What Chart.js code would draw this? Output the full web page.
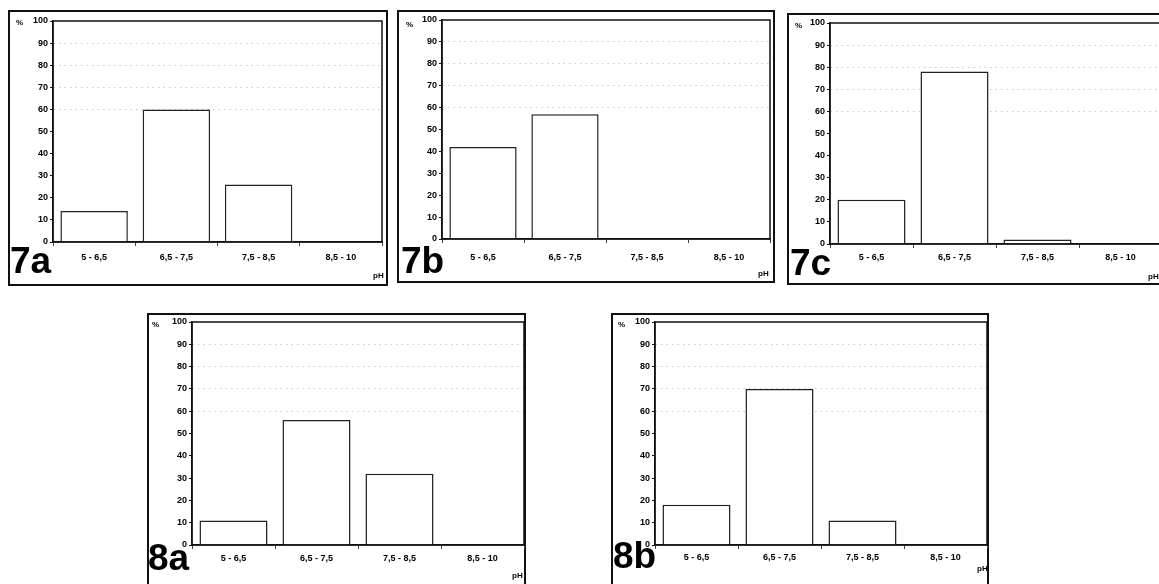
<!DOCTYPE html>
<html>
<head>
<meta charset="utf-8">
<script src="https://cdn.jsdelivr.net/npm/chart.js@4.4.1/dist/chart.umd.min.js"></script>
<style>
  body { margin: 0; width: 1159px; height: 584px; background: #fff; position: relative; overflow: hidden;
         font-family: 'Liberation Sans', Arial, sans-serif; }
  .box { position: absolute; border: 2px solid #111; box-sizing: border-box; }
  canvas { position: absolute; }
  .tag { position: absolute; font-weight: bold; font-size: 37px; line-height: 37px; color: #000; }
  .small { position: absolute; font-weight: bold; font-size: 8px; line-height: 8px; color: #000; }
</style>
</head>
<body>
<script>
'use strict';

// pH classes on the x axis
let categories = ['5 - 6,5', '6,5 - 7,5', '7,5 - 8,5', '8,5 - 10'];
let yTicks = [0, 10, 20, 30, 40, 50, 60, 70, 80, 90, 100];

// % of samples per pH class, one list per panel
let values7a = [14, 60, 26, 0];
let values7b = [42, 57, 0, 0];
let values7c = [20, 78, 2, 0];
let values8a = [11, 56, 32, 0];
let values8b = [18, 70, 11, 0];

// where each panel sits on the page
let panels = [
  { name: '7a', data: values7a, box: [8, 10, 388, 286], plot: [53, 21, 382, 242], tag: [10, 273], pct: [19, 23], ph: [373, 276], pad: 6.6 },
  { name: '7b', data: values7b, box: [397, 10, 775, 283], plot: [442, 20, 770, 239], tag: [401, 273], pct: [409, 25], ph: [758, 274], pad: 9.6 },
  { name: '7c', data: values7c, box: [787, 13, 1168, 285], plot: [830, 23, 1162, 244], tag: [790, 275], pct: [798, 26], ph: [1148, 277], pad: 4.6 },
  { name: '8a', data: values8a, box: [147, 313, 526, 592], plot: [192, 322, 524, 545], tag: [148, 570], pct: [155, 325], ph: [512, 576], pad: 4.6 },
  { name: '8b', data: values8b, box: [611, 313, 989, 592], plot: [655, 322, 987, 545], tag: [613, 568], pct: [621, 325], ph: [977, 569], pad: 3.6 }
];

let framePlugin = {
  id: 'frame',
  afterDraw(chart) {
    let a = chart.chartArea;
    let ctx = chart.ctx;
    ctx.save();
    ctx.strokeStyle = '#111';
    ctx.lineWidth = 1.5;
    ctx.strokeRect(a.left, a.top, a.right - a.left, a.bottom - a.top);
    ctx.restore();
  }
};

function addText(cls, text, x, y) {
  let el = document.createElement('span');
  el.className = cls;
  el.textContent = text;
  el.style.left = x + 'px';
  el.style.top = y + 'px';
  document.body.appendChild(el);
  return el;
}

function makePanel(p) {
  let box = document.createElement('div');
  box.className = 'box';
  box.style.left = p.box[0] + 'px';
  box.style.top = p.box[1] + 'px';
  box.style.width = (p.box[2] - p.box[0]) + 'px';
  box.style.height = (p.box[3] - p.box[1]) + 'px';
  document.body.appendChild(box);

  let plotW = p.plot[2] - p.plot[0];
  let plotH = p.plot[3] - p.plot[1];
  let canvas = document.createElement('canvas');
  canvas.width = plotW + 45 + 4;
  canvas.height = plotH + 10 + 30;
  canvas.style.left = (p.plot[0] - 45) + 'px';
  canvas.style.top = (p.plot[1] - 10) + 'px';
  document.body.appendChild(canvas);

  let tickFont = { family: 'Liberation Sans', size: 9, weight: 'bold' };

  new Chart(canvas.getContext('2d'), {
    type: 'bar',
    data: {
      labels: categories,
      datasets: [{
        data: p.data,
        backgroundColor: '#fff',
        borderColor: '#222',
        borderWidth: 1.5,
        barPercentage: 0.82,
        categoryPercentage: 1
      }]
    },
    options: {
      responsive: false,
      animation: false,
      layout: { padding: { left: 15, top: 10, right: 4, bottom: 0 } },
      plugins: { legend: { display: false }, tooltip: { enabled: false } },
      scales: {
        x: {
          afterFit(scale) { scale.height = 30; },
          border: { color: '#111', width: 1.5 },
          grid: { drawOnChartArea: false, tickLength: 4, tickColor: '#444', offset: true },
          ticks: { color: '#000', font: tickFont, padding: p.pad, maxRotation: 0 }
        },
        y: {
          min: 0,
          max: 100,
          afterFit(scale) { scale.width = 30; },
          afterBuildTicks(scale) { scale.ticks = yTicks.map(v => ({ value: v })); },
          border: { color: '#111', width: 1.5, dash: [1.5, 4] },
          grid: {
            tickLength: 3,
            tickColor: '#111',
            lineWidth: 1,
            color(ctx) {
              let v = ctx.tick ? ctx.tick.value : 0;
              return (v >= 60 && v <= 90) ? 'rgba(120,120,120,0.4)' : 'rgba(0,0,0,0)';
            }
          },
          ticks: { color: '#000', font: tickFont, padding: 2 }
        }
      }
    },
    plugins: [framePlugin]
  });

  addText('tag', p.name, p.tag[0], p.tag[1] - 31);
  addText('small', '%', p.pct[0] - 3, p.pct[1] - 4);
  addText('small', 'pH', p.ph[0], p.ph[1] - 4);
}

panels.forEach(makePanel);
</script>
</body>
</html>
